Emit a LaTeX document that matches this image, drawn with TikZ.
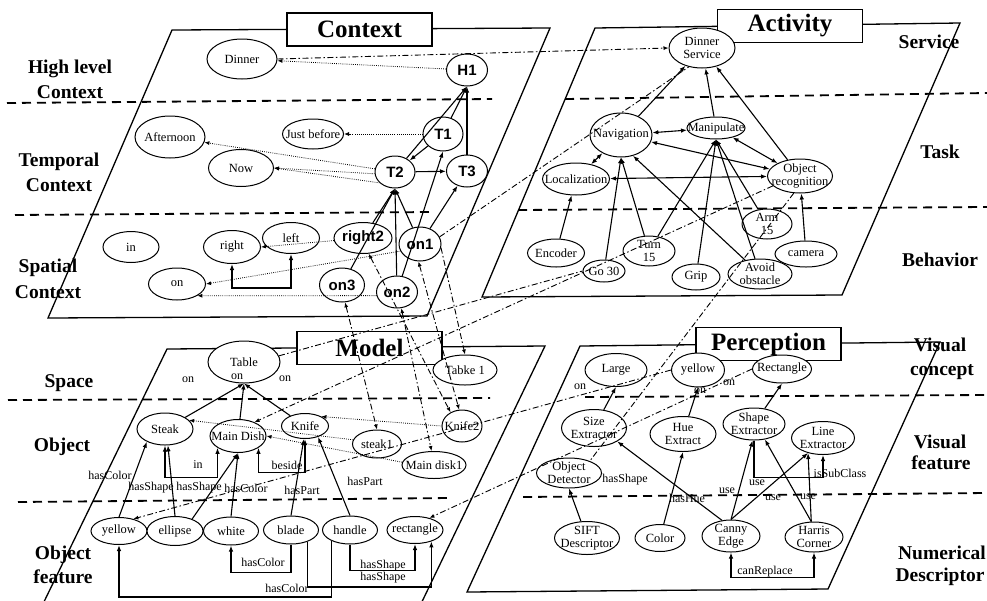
\documentclass[tikz,border=0pt]{standalone}
\usepackage{fontspec}
\setmainfont{Liberation Serif}
\newfontfamily\sansfam{Liberation Sans}
\usetikzlibrary{shapes.geometric,arrows.meta,calc}
\tikzset{
  ell/.style n args={2}{ellipse, draw, line width=1pt, fill=white, minimum width=#1, minimum height=#2, inner sep=0pt},
  lab/.style={font=\fontsize{12.5}{13}\selectfont, align=center, inner sep=0pt},
  blab/.style={font=\sansfam\bfseries\fontsize{15}{16}\selectfont, inner sep=0pt},
  lbl/.style={font=\fontsize{12}{13}\selectfont, inner sep=0pt},
  lay/.style={font=\bfseries\fontsize{19.5}{22}\selectfont, inner sep=0pt},
  ttl/.style={draw, fill=white, line width=1.2pt, font=\bfseries\fontsize{25}{28}\selectfont, minimum width=145pt, minimum height=33pt, inner sep=0pt},
  plane/.style={line width=1.3pt},
  sep/.style={line width=1.8pt, dash pattern=on 9pt off 6pt},
  arr/.style={-{Latex[length=6pt,width=4.5pt]}, line width=1.1pt},
  barr/.style={{Latex[length=6pt,width=4.5pt]}-{Latex[length=6pt,width=4.5pt]}, line width=1.1pt},
  ln/.style={line width=1.1pt},
  dot/.style={-{Latex[length=5pt,width=4pt]}, line width=0.8pt, dash pattern=on 0.8pt off 1.3pt},
  dd/.style={line width=0.9pt, dash pattern=on 6pt off 2.5pt on 1.5pt off 2.5pt},
  dda/.style={dd, -{Latex[length=5pt,width=4pt]}},
  ddb/.style={dd, {Latex[length=5pt,width=4pt]}-{Latex[length=5pt,width=4pt]}},
}
\newcommand\enode[6]{\node[ell={#4pt}{#5pt},label={[lab]center:#6}] (#1) at (#2,#3) {};}
\newcommand\bnode[6]{\node[ell={#4pt}{#5pt},label={[blab]center:#6}] (#1) at (#2,#3) {};}
\begin{document}
\begin{tikzpicture}[x=1pt,y=-1pt]
\useasboundingbox (0,0) rectangle (987,600);
\clip (0,0) rectangle (987,600);
% planes
\draw[plane] (172,30) -- (550,28) -- (427,316) -- (48,318) -- cycle;
\draw[plane] (595,28) -- (960,23) -- (842,295) -- (482,297) -- cycle;
\draw[plane] (167,349) -- (545,346) -- (418,610) -- (40,610) -- cycle;
\draw[plane] (580,346) -- (940,342) -- (828,589) -- (467,592) -- cycle;
% separators
\draw[sep] (7,103) -- (492,99);  \draw[sep] (565,99) -- (987,93);
\draw[sep] (15,215) -- (433,212); \draw[sep] (518,210) -- (987,207);
\draw[sep] (8,400) -- (490,398); \draw[sep] (585,397) -- (987,395);
\draw[sep] (18,502) -- (450,498); \draw[sep] (523,497) -- (987,493);
% titles
\node[ttl] (tctx) at (359.5,29.5) {Context};
\node[ttl] (tact) at (790,26) {Activity};
\node[ttl] (tmod) at (369.5,348) {Model};
\node[ttl] (tper) at (768.5,344) {Perception};
% layer labels
\node[lay] (L1a) at (70,69) {High level};
\node[lay] (L1b) at (70,92) {Context};
\node[lay] (L2a) at (59,162) {Temporal};
\node[lay] (L2b) at (59,185) {Context};
\node[lay] (L3a) at (48,268) {Spatial};
\node[lay] (L3b) at (48,292) {Context};
\node[lay] (L4) at (69,383) {Space};
\node[lay] (L5) at (62,447) {Object};
\node[lay] (L6a) at (63,555) {Object};
\node[lay] (L6b) at (63,577) {feature};
\node[lay] (R1) at (929,42) {Service};
\node[lay] (R2) at (940,152) {Task};
\node[lay] (R3) at (940,260) {Behavior};
\node[lay] (R4a) at (940,345) {Visual};
\node[lay] (R4b) at (942,372) {concept};
\node[lay] (R5a) at (940,442) {Visual};
\node[lay] (R5b) at (941,463) {feature};
\node[lay] (R6a) at (942,553) {Numerical};
\node[lay] (R6b) at (940,577) {Descriptor};
% ---- Context nodes
\enode{dinner}{242}{59}{70}{40}{Dinner}
\bnode{H1}{467}{70}{41}{32}{H1}
\enode{afternoon}{170}{137}{70}{42}{Afternoon}
\enode{justbefore}{313}{134}{61}{30}{Just before}
\bnode{T1}{443}{134}{40}{34}{T1}
\enode{now}{241}{168}{65}{37}{Now}
\bnode{T2}{395}{172}{40}{32}{T2}
\bnode{T3}{467}{171}{41}{32}{T3}
\enode{in}{131}{247}{56}{31}{in}
\enode{right}{232}{247}{57}{33}{right}
\enode{left}{291}{238}{57}{31}{left}
\bnode{right2}{363}{238}{58}{31}{right2}
\bnode{on1}{420}{244}{42}{34}{on1}
\enode{on}{177}{284}{57}{32}{on}
\bnode{on3}{342}{285}{45}{34}{on3}
\bnode{on2}{397}{292}{41}{32}{on2}
% ---- Activity nodes
\enode{ds}{702}{48}{66}{40}{Dinner\\Service}
\enode{nav}{621}{135}{62}{44}{Navigation}
\enode{manip}{716}{128}{58}{22}{Manipulate}
\enode{loc}{576}{179}{67}{32}{Localization}
\enode{objrec}{800}{176}{65}{34}{Object\\recognition}
\enode{arm}{767}{224}{50}{30}{Arm\\15}
\enode{encoder}{556}{253}{57}{28}{Encoder}
\enode{turn}{649}{251}{52}{30}{Turn\\15}
\enode{go}{604}{271}{42}{22}{Go 30}
\enode{grip}{696}{277}{48}{26}{Grip}
\enode{avoid}{760}{274}{64}{30}{Avoid\\obstacle}
\enode{camera}{806}{254}{62}{26}{camera}
% ---- Model nodes
\enode{table}{244}{362}{72}{42}{Table}
\enode{table1}{465}{370}{64}{30}{Tabke 1}
\enode{steak}{165}{429}{56}{32}{Steak}
\enode{maindish}{238}{436}{56}{33}{Main Dish}
\enode{knife}{305}{426}{47}{25}{Knife}
\enode{steak1}{377}{444}{49}{28}{steak1}
\enode{knife2}{462}{426}{40}{32}{Knife2}
\enode{maindisk1}{434}{465}{64}{27}{Main disk1}
\enode{yellowm}{119}{531}{56}{27}{yellow}
\enode{ellipse}{175}{531}{56}{29}{ellipse}
\enode{white}{231}{531}{55}{28}{white}
\enode{blade}{291}{530}{55}{28}{blade}
\enode{handle}{350}{530}{55}{28}{handle}
\enode{rectm}{415}{530}{56}{27}{rectangle}
% ---- Perception nodes
\enode{large}{616}{370}{62}{33}{Large}
\enode{yellowp}{698}{370}{53}{34}{yellow}
\enode{rectp}{782}{369}{59}{28}{Rectangle}
\enode{size}{594}{428}{65}{37}{Size\\Extractor}
\enode{hue}{683}{434}{66}{35}{Hue\\Extract}
\enode{shape}{754}{424}{62}{32}{Shape\\Extractor}
\enode{line}{823}{438}{63}{33}{Line\\Extractor}
\enode{objdet}{569}{473}{65}{30}{Object\\Detector}
\enode{sift}{587}{538}{65}{33}{SIFT\\Descriptor}
\enode{color}{660}{538}{50}{27}{Color}
\enode{canny}{731}{536}{58}{32}{Canny\\Edge}
\enode{harris}{814}{537}{58}{30}{Harris\\Corner}
% ---- Context edges
\draw[arr] (T1) -- (H1.south);
\draw[arr] (T2) -- (H1.south);
\draw[arr] (T3) -- (H1.south);
\draw[arr] (T1) -- (T2);
\draw[arr] (T2) -- (T3);
\draw[arr] (right2) -- (T2.south);
\draw[arr] (on3) -- (T2.south);
\draw[arr] (on2) -- (T2.south);
\draw[arr] (on1) -- (T2.south);
\draw[arr] (on2) -- (T1.south);
\draw[arr] (on1) -- (T3);
\draw[dot] (H1) -- (dinner);
\draw[dot] (T1) -- (justbefore);
\draw[dot] (T2) -- (afternoon);
\draw[dot] (T2.185) -- (now.east);
\draw[dot] (T2.215) -- (now.east);
\draw[dot] (right2) -- (right.east);
\draw[dot] (on1.200) -- (on.east);
\draw[dot] (on2.190) -- (on.330);
\draw[barr] (right.south) -- ++(0,24) -| (left.south);
% ---- Activity edges
\draw[arr] (nav) -- (ds);
\draw[arr] (manip) -- (ds);
\draw[arr] (objrec) -- (ds);
\draw[barr] (nav) -- (manip);
\draw[barr] (nav) -- (objrec);
\draw[barr] (manip) -- (objrec);
\draw[barr] (loc) -- (nav);
\draw[barr] (loc) -- (objrec);
\draw[arr] (encoder) -- (loc);
\draw[arr] (go) -- (nav.south);
\draw[arr] (turn) -- (nav.south);
\draw[arr] (avoid) -- (nav.300);
\draw[arr] (turn) -- (manip.south);
\draw[arr] (grip) -- (manip.south);
\draw[arr] (arm) -- (manip.south);
\draw[arr] (avoid) -- (manip.south);
\draw[arr] (camera) -- (objrec);
% ---- Model edges
\draw[arr] (steak) -- (table.south);
\draw[arr] (maindish) -- (table.south);
\draw[arr] (knife) -- (table.south);
\node[lbl] (lon1) at (188,380) {on};
\node[lbl] (lon2) at (237,377) {on};
\node[lbl] (lon3) at (285,379) {on};
\draw[barr] (steak.south) -- ++(0,32) -| (maindish.210);
\node[lbl] (lin) at (198,465) {in};
\draw[barr] (maindish.330) -- ++(0,25) -| (knife.south);
\node[lbl] (lbeside) at (287,465) {beside};
\draw[arr] (yellowm.north) -- (steak.215);
\node[lbl] (lhc1) at (110,475) {hasColor};
\draw[arr] (ellipse.north) -- (steak.280);
\draw[arr] (ellipse.35) -- (maindish.south);
\draw[arr] (white.north) -- (maindish.south);
\node[lbl] (lhs1) at (151,488) {hasShape};
\node[lbl] (lhs2) at (199,488) {hasShape};
\node[lbl] (lhc2) at (246,488) {hasColor};
\draw[arr] (blade.north) -- (knife.265);
\node[lbl] (lhp1) at (302,490) {hasPart};
\draw[arr] (handle.north) -- (knife.320);
\node[lbl] (lhp2) at (365,481) {hasPart};
\draw[arr] (blade.south) -- ++(0,28) -| (white.south);
\node[lbl] (lhc3) at (263,562) {hasColor};
\draw[arr] (handle.210) -- (handle.210 |- 0,597) -| (yellowm.south);
\node[lbl] (lhc4) at (287,588) {hasColor};
\draw[arr] (handle.south) -- ++(0,26) -| (rectm.south);
\node[lbl] (lhs3) at (383,566) {hasShape};
\draw[arr] (blade.325) -- (blade.325 |- 0,587) -| (rectm.325);
\node[lbl] (lhs4) at (383,578) {hasShape};
\draw[dot] (steak1.170) -- (steak.20);
\draw[dot] (knife2.180) -- (knife.30);
\draw[dot] (maindisk1.175) -- (maindish.east);
% ---- Perception edges
\draw[arr] (size) -- (large.south);
\draw[arr] (hue) -- (yellowp.south);
\draw[arr] (shape) -- (rectp.south);
\draw[arr] (canny.120) -- (size.330);
\node[lbl] (lhs5) at (625,480) {hasShape};
\draw[arr] (color) -- (hue.south);
\node[lbl] (lhh) at (687,498) {hasHue};
\draw[arr] (canny.north) -- (shape.265);
\node[lbl] (lu1) at (727,491) {use};
\draw[arr] (canny.north) -- (line.225);
\node[lbl] (lu2) at (757,483) {use};
\draw[arr] (harris.100) -- (shape.305);
\node[lbl] (lu3) at (773,498) {use};
\draw[arr] (harris.100) -- (line.225);
\node[lbl] (lu4) at (808,497) {use};
\draw[arr] (shape.south) -- ++(0,37) -| (line.south);
\node[lbl] (lisc) at (840,473) {isSubClass};
\draw[arr] (sift) -- (objdet.south);
\draw[barr] (canny.south) -- ++(0,25) -| (harris.south);
\node[lbl] (lcr) at (765,572) {canReplace};
\node[lbl] (lpon1) at (580,387) {on};
\node[lbl] (lpon2) at (729,383) {on};
\node[lbl] (lpon3) at (700,391) {on};
% ---- dash-dot cross links
\draw[dda] (dinner.east) -- (ds.west);
\draw[dd] (on1.20) -- (ds.235);
\draw[dda] (objrec.200) -- (maindish.40);
\draw[dd] (table.10) -- (go.west);
\draw[dda] (yellowp.west) -- (yellowm.40);
\draw[dda] (rectp.west) -- (rectm.40);
\draw[dd] (objrec.250) -- (objdet.30);
\draw[ddb] (on3.280) -- (steak1.north);
\draw[ddb] (right2.290) -- (knife2.130);
\draw[ddb] (on2.285) -- (maindisk1.100);
\draw[ddb] (on1.265) -- (knife2.100);
\draw[dda] (on1.-10) -- (table1.north);
\end{tikzpicture}
\end{document}
